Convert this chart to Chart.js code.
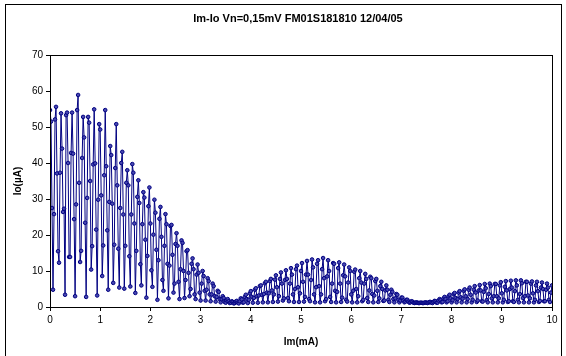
<!DOCTYPE html>
<html>
<head>
<meta charset="utf-8">
<title>Im-Io</title>
<script src="https://cdn.jsdelivr.net/npm/chart.js@4.4.1/dist/chart.umd.min.js"></script>
<style>
  html, body { margin: 0; padding: 0; background: #fff; }
  #wrap { width: 566px; height: 356px; }
</style>
</head>
<body>
<div id="wrap"><canvas id="chart" width="566" height="356"></canvas></div>
<script>
// Im sweep: starts at 0 mA, one reading every 0.02 mA
const imStart = 0;
const imStep = 0.02;

// Io (uA) readings, in chunks of Im
const io0to2 = [
  54.7, 51.5, 27.5, 4.8, 25.8, 52.1, 55.6, 37.1, 15.5, 12.3,
  37.3, 53.8, 44.0, 26.4, 27.3, 3.4, 53.3, 54.0, 40.0, 13.9,
  13.9, 42.8, 54.0, 42.6, 24.4, 3.0, 28.5, 54.7, 58.9, 34.5,
  12.5, 15.6, 41.4, 52.8, 47.1, 23.4, 2.8, 30.3, 52.8, 51.2,
  35.0, 10.4, 16.9, 39.6, 54.9, 39.9, 21.5, 3.2, 29.8, 50.8,
  49.3, 31.0, 8.6, 17.1, 36.6, 54.7, 39.1, 21.3, 4.8, 29.2,
  44.7, 42.2, 28.7, 6.7, 17.3, 38.6, 50.8, 33.8, 16.2, 5.4,
  27.5, 40.0, 43.1, 25.7, 5.1, 17.0, 34.5, 38.0, 33.8, 14.1,
  5.7, 25.7, 39.7, 37.3, 23.2, 3.9, 15.6, 30.6, 35.2, 28.9,
  11.9, 6.0, 23.0, 31.9, 30.4, 18.7, 2.6, 14.2, 28.0, 33.2,
  23.2
];
const io2to4 = [
  10.2, 5.6, 20.1, 29.8, 26.2, 15.9, 2.0, 13.0, 24.5, 27.8,
  19.5, 7.5, 4.5, 17.0, 25.8, 23.0, 12.0, 2.4, 11.5, 22.5,
  22.8, 14.5, 4.0, 6.5, 17.5,
  20.5, 17.0, 7.0, 2.2, 10.5, 18.5, 17.8, 10.0, 2.5, 7.5,
  15.5, 15.8, 9.5, 3.0, 5.0, 12.0, 13.5, 10.5, 3.5, 2.2,
  9.0, 11.8, 9.5, 4.0, 1.8,
  6.5, 10.0, 8.6, 4.5, 1.8, 4.8, 8.0, 7.2, 3.5, 1.6,
  3.5, 6.5, 5.8, 3.0, 1.5, 2.8, 4.5, 4.2, 2.2, 1.3,
  2.2, 3.0, 2.5, 1.4, 1.2,
  1.8, 2.2, 1.6, 1.1, 1.2, 1.6, 1.4, 1.0, 1.1, 1.5,
  1.7, 1.2, 1.0, 1.6, 2.4, 2.1, 1.2, 1.3, 2.8, 3.4,
  2.2, 1.1, 2.0, 3.8, 4.4
];
const io4to6 = [
  2.8, 1.2, 2.5, 4.8, 5.2, 3.0, 1.2, 3.2, 5.8, 6.0,
  3.4, 1.3, 3.6, 6.6, 7.0, 4.0, 1.3, 3.8, 7.2, 7.8,
  4.6, 1.4, 3.5, 7.6, 8.8,
  5.5, 1.5, 3.0, 7.8, 9.6, 6.5, 1.8, 2.4, 7.5, 10.2,
  7.8, 2.5, 1.6, 6.5, 10.8, 9.0, 3.5, 1.4, 5.0, 10.5,
  11.5, 5.5, 1.4, 3.8, 10.0,
  12.2, 7.0, 1.5, 2.8, 9.0, 12.8, 9.0, 2.2, 1.6, 7.5,
  13.2, 11.0, 3.5, 1.3, 5.5, 12.0, 13.0, 5.8, 1.3, 3.5,
  10.5, 13.6, 8.0, 1.6, 2.2,
  8.5, 13.0, 10.0, 2.8, 1.4, 6.5, 12.2, 12.0, 4.5, 1.3,
  4.2, 10.8, 12.4, 6.5, 1.4, 2.6, 8.8, 11.8, 8.5, 2.0,
  1.5, 6.8, 11.0, 10.0, 3.5
];
const io6to8 = [
  1.3, 4.5, 9.8, 10.4, 5.0, 1.3, 3.0, 8.0, 10.0, 6.8,
  1.6, 2.0, 6.5, 9.2, 7.8, 2.5, 1.4, 4.6, 8.4, 8.0,
  3.6, 1.3, 3.2, 7.2, 7.8,
  4.5, 1.4, 2.4, 5.8, 7.0, 5.0, 1.7, 1.8, 4.6, 6.0,
  4.8, 2.0, 1.4, 3.4, 4.8, 4.2, 2.2, 1.3, 2.4, 3.6,
  3.4, 2.0, 1.3, 1.8, 2.6,
  2.6, 1.8, 1.3, 1.5, 2.0, 2.0, 1.5, 1.2, 1.3, 1.6,
  1.5, 1.2, 1.1, 1.2, 1.3, 1.2, 1.1, 1.1, 1.2, 1.2,
  1.1, 1.1, 1.2, 1.3, 1.2,
  1.1, 1.2, 1.4, 1.4, 1.2, 1.1, 1.4, 1.7, 1.6, 1.2,
  1.2, 1.8, 2.2, 1.9, 1.3, 1.4, 2.4, 2.8, 2.2, 1.3,
  1.6, 3.0, 3.4, 2.4, 1.3
];
const io8to10 = [
  1.9, 3.6, 3.9, 2.5, 1.3, 2.2, 4.0, 4.4, 2.7, 1.3,
  2.3, 4.5, 4.9, 3.0, 1.3, 2.2, 4.8, 5.4, 3.4, 1.3,
  2.0, 4.8, 5.8, 4.0, 1.4,
  1.8, 4.6, 6.1, 4.6, 1.6, 1.5, 4.2, 6.4, 5.2, 1.9,
  1.3, 3.6, 6.5, 5.8, 2.4, 1.3, 3.0, 6.4, 6.4, 3.0,
  1.3, 2.4, 6.0, 6.9, 3.8,
  1.3, 2.0, 5.6, 7.2, 4.6, 1.4, 1.6, 5.0, 7.3, 5.4,
  1.6, 1.4, 4.4, 7.4, 6.0, 2.0, 1.3, 3.6, 7.4, 6.6,
  2.5, 1.3, 3.0, 7.0, 7.0,
  3.2, 1.3, 2.4, 6.5, 7.1, 3.8, 1.3, 2.0, 6.0, 7.0,
  4.4, 1.4, 1.7, 5.4, 6.8, 5.0, 1.6, 1.6, 4.8, 6.5,
  5.4, 2.0, 1.4, 4.0, 6.0
];

const ioValues = [...io0to2, ...io2to4, ...io4to6, ...io6to8, ...io8to10];
const xTicks = [0, 1, 2, 3, 4, 5, 6, 7, 8, 9, 10];
const yTicks = [0, 10, 20, 30, 40, 50, 60, 70];

const chartTitle = 'Im-Io Vn=0,15mV FM01S181810 12/04/05';
const xTitle = 'Im(mA)';
const yTitle = 'Io(\u00b5A)';

const points = ioValues.map((v, i) => ({ x: +(imStart + i * imStep).toFixed(2), y: v }));

Chart.defaults.font.family = '"Liberation Sans", Arial, sans-serif';
Chart.defaults.color = '#000';

// frame round the whole chart, title, box round the plot area
const excelFrame = {
    id: 'excelFrame',
    afterDraw(chart) {
        const ctx = chart.ctx;
        const a = chart.chartArea;
        ctx.save();
        ctx.strokeStyle = '#000';
        ctx.lineWidth = 1;
        ctx.strokeRect(5.5, 4.5, 556, 360);
        ctx.strokeRect(Math.round(a.left) + 0.5, Math.round(a.top) + 0.5,
            Math.round(a.right - a.left), Math.round(a.bottom - a.top));
        ctx.font = 'bold 11px "Liberation Sans", Arial, sans-serif';
        ctx.fillStyle = '#000';
        ctx.textAlign = 'center';
        ctx.textBaseline = 'middle';
        ctx.fillText(chartTitle, 298, 19);
        ctx.restore();
    }
};

new Chart(document.getElementById('chart'), {
    type: 'scatter',
    data: {
        datasets: [{
            data: points,
            showLine: true,
            borderColor: '#000080',
            borderWidth: 1,
            pointRadius: 1.8,
            pointBorderWidth: 1,
            pointBorderColor: '#000080',
            pointBackgroundColor: '#4848b0',
            tension: 0
        }]
    },
    options: {
        responsive: false,
        animation: false,
        layout: { padding: { left: 10, right: 14, top: 55, bottom: 4 } },
        plugins: { legend: { display: false }, tooltip: { enabled: false } },
        scales: {
            x: {
                type: 'linear',
                min: 0,
                max: 10,
                afterBuildTicks: s => { s.ticks = xTicks.map(v => ({ value: v })); },
                afterFit: s => { s.height = 45; },
                grid: { drawOnChartArea: false, tickLength: 4, color: '#000' },
                border: { color: '#000' },
                ticks: { font: { size: 10 }, padding: 3, maxRotation: 0 },
                title: { display: true, text: xTitle, font: { size: 10, weight: 'bold' }, padding: { top: 5 } }
            },
            y: {
                min: 0,
                max: 70,
                afterBuildTicks: s => { s.ticks = yTicks.map(v => ({ value: v })); },
                afterFit: s => { s.width = 40; },
                grid: { drawOnChartArea: false, tickLength: 4, color: '#000' },
                border: { color: '#000' },
                ticks: { font: { size: 10 }, padding: 3 },
                title: { display: true, text: yTitle, font: { size: 10, weight: 'bold' }, padding: { top: 2, bottom: 2 } }
            }
        }
    },
    plugins: [excelFrame]
});
</script>
</body>
</html>
